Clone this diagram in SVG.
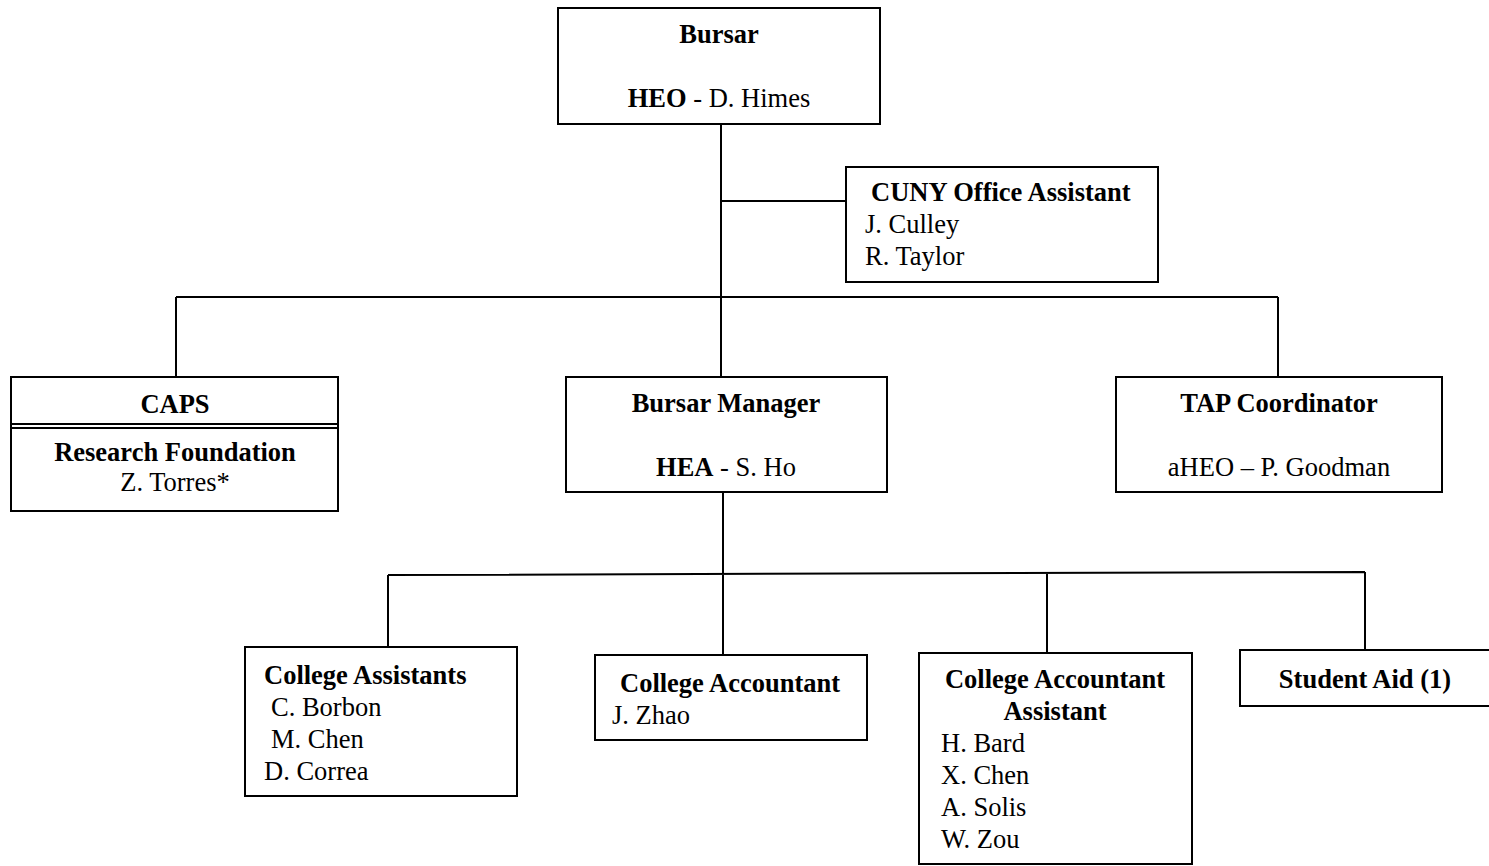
<svg xmlns="http://www.w3.org/2000/svg" width="1489" height="866" viewBox="0 0 1489 866">
<style>
.box{fill:#fff;stroke:#000;stroke-width:2}
.ln{stroke:#000;stroke-width:2;fill:none}
text{font-family:"Liberation Serif","Times New Roman",serif;font-size:26.5px;fill:#000}
.b{font-weight:bold}
.c{text-anchor:middle}
</style>
<rect width="1489" height="866" fill="#fff"/>
<g id="connectors">
<path class="ln" d="M721 124V377M721 201H846M176 297H1278M176 297V377M1278 297V377"/>
<path class="ln" d="M723 492V655M388 575L1365 572M388 575V647M1047 573V653M1365 572V649"/>
</g>
<g id="bursar">
<rect class="box" x="558" y="8" width="322" height="116"/>
<text class="b c" x="719" y="43">Bursar</text>
<text class="c" x="719" y="107"><tspan class="b">HEO</tspan> - D. Himes</text>
</g>
<g id="cuny">
<rect class="box" x="846" y="167" width="312" height="115"/>
<text class="b" x="871" y="201">CUNY Office Assistant</text>
<text x="865" y="233">J. Culley</text>
<text x="865" y="265">R. Taylor</text>
</g>
<g id="caps">
<rect class="box" x="11" y="377" width="327" height="134"/>
<path class="ln" d="M11 424H338M11 428H338" stroke-width="1.5"/>
<text class="b c" x="175" y="413">CAPS</text>
<text class="b c" x="175" y="461">Research Foundation</text>
<text class="c" x="175" y="491">Z. Torres*</text>
</g>
<g id="manager">
<rect class="box" x="566" y="377" width="321" height="115"/>
<text class="b c" x="726" y="412">Bursar Manager</text>
<text class="c" x="726" y="476"><tspan class="b">HEA</tspan> - S. Ho</text>
</g>
<g id="tap">
<rect class="box" x="1116" y="377" width="326" height="115"/>
<text class="b c" x="1279" y="412">TAP Coordinator</text>
<text class="c" x="1279" y="476">aHEO – P. Goodman</text>
</g>
<g id="assistants">
<rect class="box" x="245" y="647" width="272" height="149"/>
<text class="b" x="264" y="684">College Assistants</text>
<text x="271" y="716">C. Borbon</text>
<text x="271" y="748">M. Chen</text>
<text x="264" y="780">D. Correa</text>
</g>
<g id="accountant">
<rect class="box" x="595" y="655" width="272" height="85"/>
<text class="b" x="620" y="692">College Accountant</text>
<text x="612" y="724">J. Zhao</text>
</g>
<g id="accountant-assistant">
<rect class="box" x="919" y="653" width="273" height="211"/>
<text class="b c" x="1055" y="688">College Accountant</text>
<text class="b c" x="1055" y="720">Assistant</text>
<text x="941" y="752">H. Bard</text>
<text x="941" y="784">X. Chen</text>
<text x="941" y="816">A. Solis</text>
<text x="941" y="848">W. Zou</text>
</g>
<g id="student-aid">
<rect class="box" x="1240" y="650" width="260" height="56"/>
<text class="b c" x="1365" y="688">Student Aid (1)</text>
</g>
</svg>
